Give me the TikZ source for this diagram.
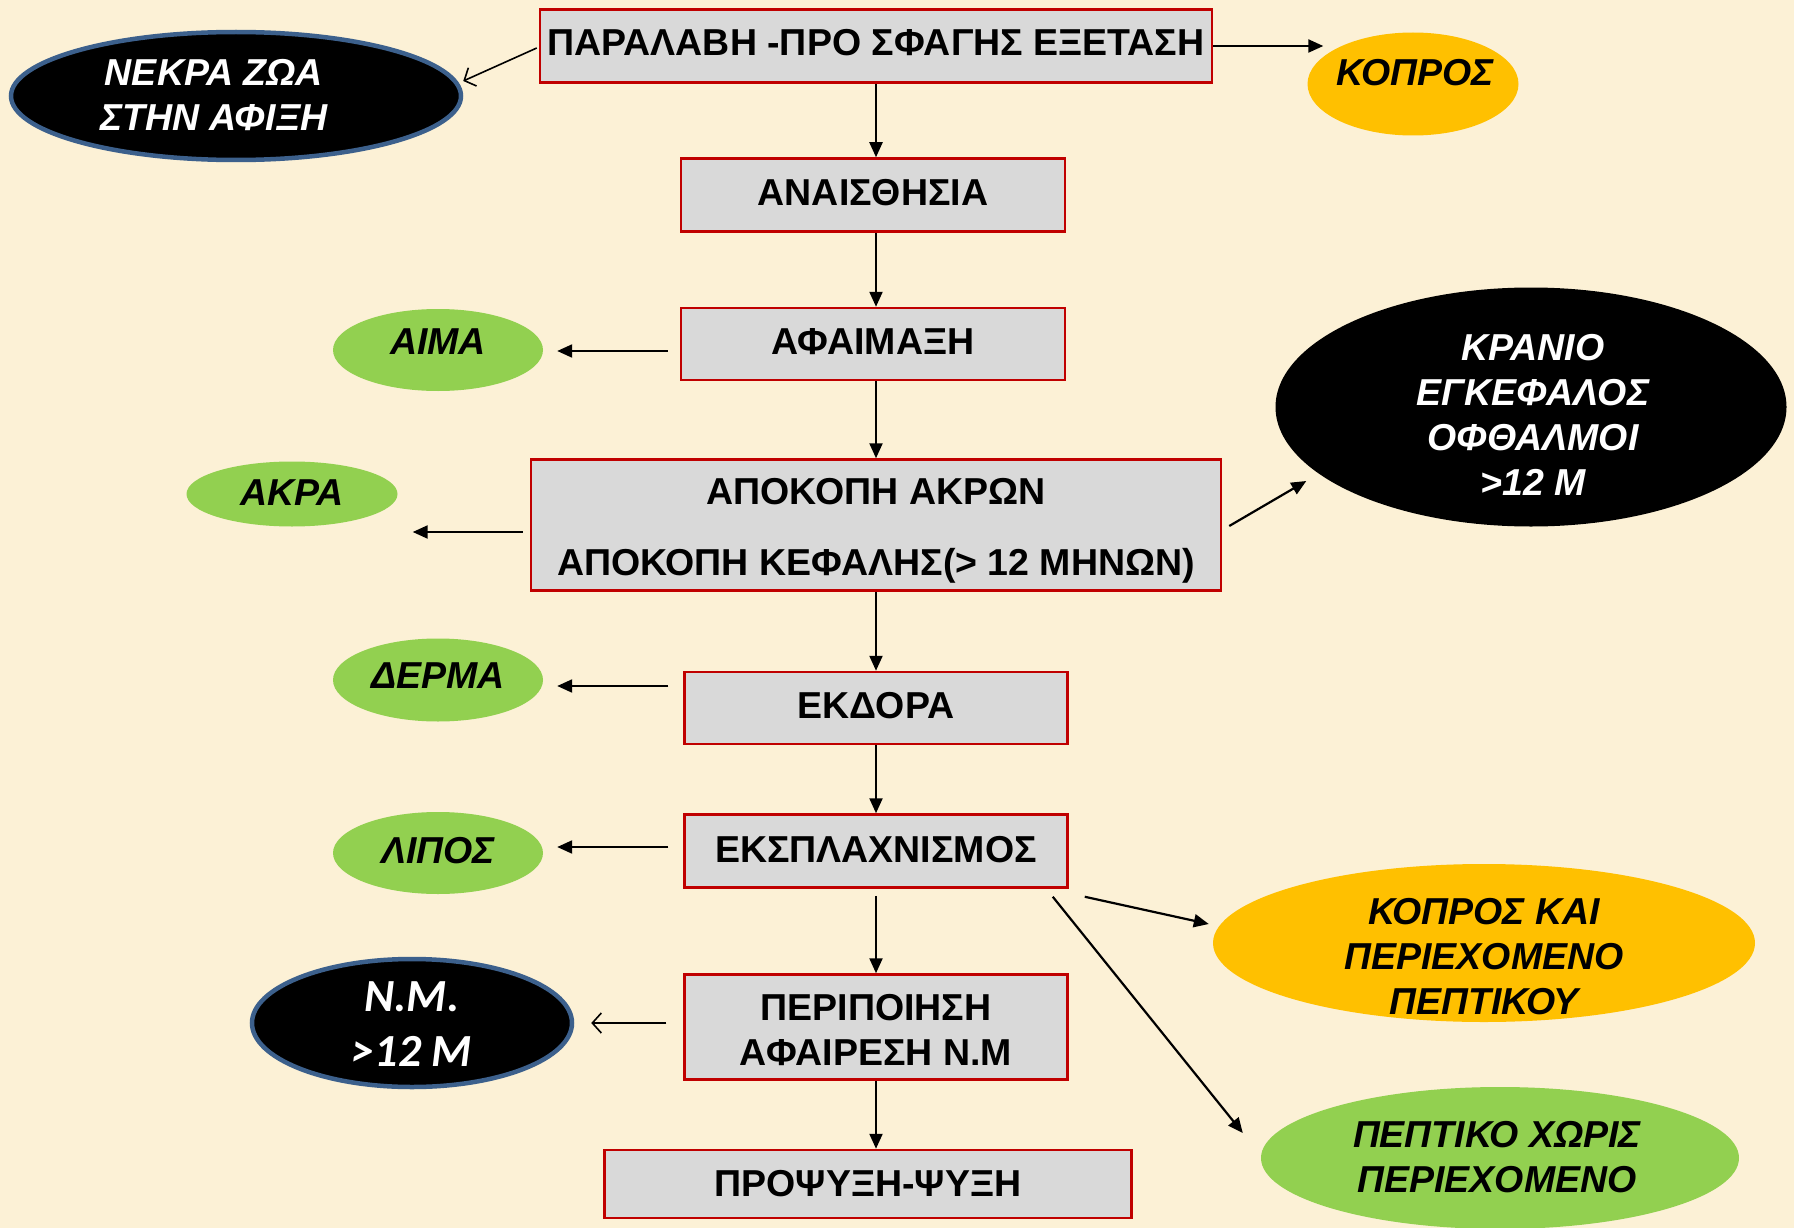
\documentclass[tikz,border=0pt]{standalone}
\usepackage{fontspec}
\setmainfont{Liberation Sans}
\newfontfamily\nmfont{Carlito}
\usetikzlibrary{shapes.geometric,arrows.meta,calc}
\definecolor{bgcream}{RGB}{252,241,214}
\definecolor{boxgray}{RGB}{217,217,217}
\definecolor{boxred}{RGB}{192,0,0}
\definecolor{grn}{RGB}{146,208,80}
\definecolor{ylw}{RGB}{255,192,0}
\definecolor{blueb}{RGB}{60,96,140}
\newcommand\bxfont{\fontsize{37.5}{45}\selectfont\bfseries}
\newcommand\elfont{\fontsize{37.5}{45}\selectfont\bfseries\itshape}
\tikzset{
  stepbox/.style={draw=boxred, line width=2.5pt, fill=boxgray, font=\bxfont, align=center, inner sep=0pt},
  blob/.style={ellipse, inner sep=0pt},
  etext/.style={font=\elfont, align=center, inner sep=0pt},
  arr/.style={line width=2.2pt, -{Triangle[length=15pt,width=13pt]}},
  thinarr/.style={line width=1.6pt, -{Straight Barb[length=9pt,width=20pt,line width=1.6pt]}},
}
\begin{document}
\begin{tikzpicture}[x=1pt,y=-1pt]
\useasboundingbox (0,0) rectangle (1794,1228);
\fill[bgcream] (0,0) rectangle (1794,1228);

% process boxes
\node[stepbox, minimum width=672pt, minimum height=73pt, text depth=8pt] (top) at (876,46) {ΠΑΡΑΛΑΒΗ -ΠΡΟ ΣΦΑΓΗΣ ΕΞΕΤΑΣΗ};
\node[stepbox, minimum width=384pt, minimum height=73pt, text depth=6pt] (anais) at (873,195) {ΑΝΑΙΣΘΗΣΙΑ};
\node[stepbox, minimum width=384pt, minimum height=72pt, text depth=4pt] (afaim) at (873,344) {ΑΦΑΙΜΑΞΗ};
\node[stepbox, minimum width=690pt, minimum height=131pt] (apok) at (876,525) {\rule{0pt}{37pt}ΑΠΟΚΟΠΗ ΑΚΡΩΝ\\[26pt]ΑΠΟΚΟΠΗ ΚΕΦΑΛΗΣ(> 12 ΜΗΝΩΝ)};
\node[stepbox, minimum width=383pt, minimum height=72pt, text depth=6pt] (ekdora) at (876,708) {ΕΚΔΟΡΑ};
\node[stepbox, minimum width=383pt, minimum height=73pt, text depth=4pt] (eks) at (876,851) {ΕΚΣΠΛΑΧΝΙΣΜΟΣ};
\node[stepbox, minimum width=383pt, minimum height=105pt] (perip) at (876,1027) {\rule{0pt}{33pt}ΠΕΡΙΠΟΙΗΣΗ\\ΑΦΑΙΡΕΣΗ Ν.Μ};
\node[stepbox, minimum width=527pt, minimum height=68pt] (prop) at (868,1184) {ΠΡΟΨΥΞΗ-ΨΥΞΗ};

% side ellipses
\node[blob, fill=black, draw=blueb, line width=4.5pt, minimum width=450pt, minimum height=128pt] (nekra) at (236,96) {};
\node[etext, text=white] (nekrat) at (214,95) {ΝΕΚΡΑ ΖΩΑ\\ΣΤΗΝ ΑΦΙΞΗ};

\node[blob, fill=ylw, minimum width=211pt, minimum height=103pt] (kopros) at (1413,84) {};
\node[etext] (koprost) at (1415,73) {ΚΟΠΡΟΣ};

\node[blob, fill=grn, minimum width=210pt, minimum height=82pt] (aima) at (438,350) {};
\node[etext] (aimat) at (438,342) {ΑΙΜΑ};

\node[blob, fill=grn, minimum width=211pt, minimum height=65pt] (akra) at (292,494) {};
\node[etext] (akrat) at (292,493) {ΑΚΡΑ};

\node[blob, fill=black, minimum width=511pt, minimum height=239pt] (kranio) at (1531,407) {};
\node[etext, text=white] (kraniot) at (1533,415) {ΚΡΑΝΙΟ\\ΕΓΚΕΦΑΛΟΣ\\ΟΦΘΑΛΜΟΙ\\>12 Μ};

\node[blob, fill=grn, minimum width=210pt, minimum height=83pt] (derma) at (438,680) {};
\node[etext] (dermat) at (438,676) {ΔΕΡΜΑ};

\node[blob, fill=grn, minimum width=210pt, minimum height=82pt] (lipos) at (438,853) {};
\node[etext] (lipost) at (438,851) {ΛΙΠΟΣ};

\node[blob, fill=black, draw=blueb, line width=4.5pt, minimum width=320pt, minimum height=128pt] (nm) at (412,1023) {};
\node[inner sep=0pt, align=center, text=white, font={\nmfont\fontsize{46}{55}\selectfont\bfseries\itshape}] (nmt) at (412,1024) {N.M.\\>12 M};

\node[blob, fill=ylw, minimum width=542pt, minimum height=158pt] (kopkai) at (1484,943) {};
\node[etext] (kopkait) at (1484,957) {ΚΟΠΡΟΣ ΚΑΙ\\ΠΕΡΙΕΧΟΜΕΝΟ\\ΠΕΠΤΙΚΟΥ};

\node[blob, fill=grn, minimum width=478pt, minimum height=142pt] (pept) at (1500,1158) {};
\node[etext] (peptt) at (1497,1157) {ΠΕΠΤΙΚΟ ΧΩΡΙΣ\\ΠΕΡΙΕΧΟΜΕΝΟ};

% vertical flow
\draw[arr] (top.south) -- (top.south |- anais.north);
\draw[arr] (top.south |- anais.south) -- (top.south |- afaim.north);
\draw[arr] (top.south |- afaim.south) -- (apok.north);
\draw[arr] (apok.south) -- (ekdora.north);
\draw[arr] (ekdora.south) -- (eks.north);
\draw[arr] ($(eks.south)+(0,7)$) -- (perip.north);
\draw[arr] (perip.south) -- (perip.south |- prop.north);

% side arrows
\draw[thinarr] ($(top.west)+(-2,2)$) -- ($(nekra.east)+(0,-15)$);
\draw[arr] (top.east) -- ($(top.east -| kopros.west)+(16,0)$);
\draw[arr] ($(afaim.west)+(-12,7)$) -- ($(aima.east)+(14,1)$);
\draw[arr] ($(apok.west)+(-7,7)$) -- ($(akra.east)+(15,38)$);
\draw[arr] ($(apok.east)+(7,1)$) -- ($(kranio.west)+(31,74)$);
\draw[arr] ($(ekdora.west)+(-15,-22)$) -- ($(derma.east)+(14,6)$);
\draw[arr] ($(eks.west)+(-15,-4)$) -- ($(lipos.east)+(14,-6)$);
\draw[arr] ($(eks.south east)+(16,8)$) -- ($(kopkai.west)+(-4,-19)$);
\draw[arr] ($(eks.south east)+(-16,8)$) -- ($(pept.west)+(-18,-25)$);
\draw[thinarr] ($(perip.west)+(-17,-4)$) -- ($(nm.east)+(17,0)$);
\end{tikzpicture}
\end{document}
